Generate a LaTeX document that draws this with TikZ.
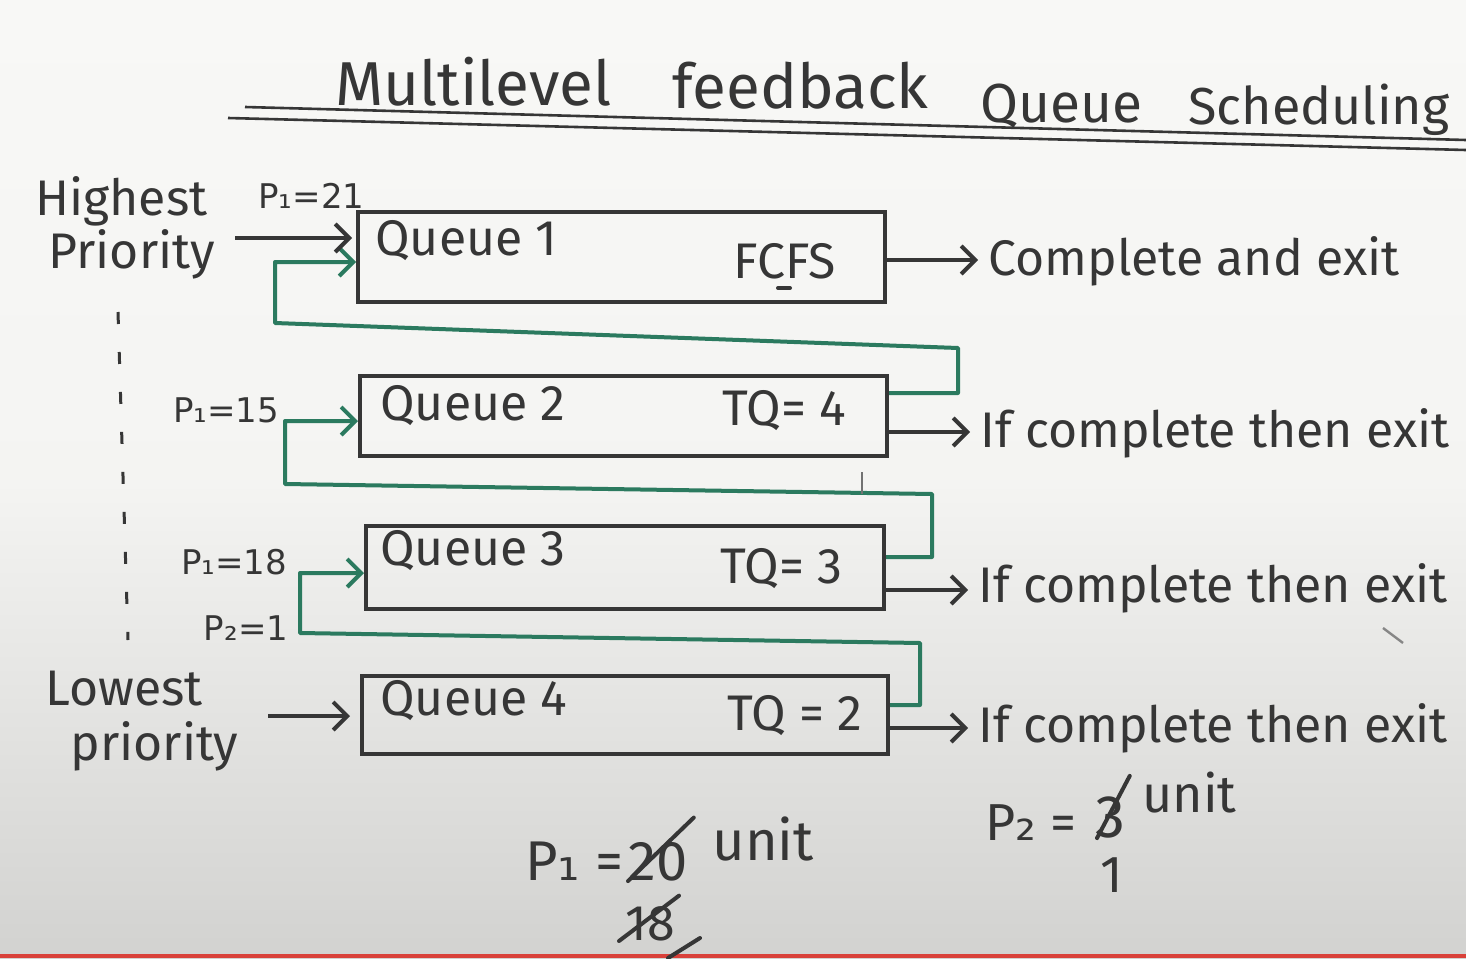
\documentclass[tikz,border=0pt]{standalone}
\usepackage{fontspec}
\setmainfont{Fira Sans}
\newfontfamily\subfont{DejaVu Sans}
\newcommand{\sbone}{{\subfont ₁}}
\newcommand{\sbtwo}{{\subfont ₂}}
\usetikzlibrary{arrows.meta}
\definecolor{ink}{HTML}{363636}
\definecolor{mk}{HTML}{2B7A5F}
\definecolor{bgtop}{HTML}{F8F8F6}
\definecolor{bgbot}{HTML}{D2D2D0}
\definecolor{bar}{HTML}{D9413A}
\begin{document}
\begin{tikzpicture}[x=0.5pt,y=-0.5pt,
  lbl/.style={text=ink, inner sep=0pt, anchor=base west, font=\fontsize{25}{30}\selectfont},
  ttl/.style={text=ink, inner sep=0pt, anchor=base west},
  small/.style={text=ink, inner sep=0pt, font=\subfont\fontsize{17}{20}\selectfont},
  qbox/.style={draw=ink, line width=2pt, inner sep=0pt},
  pen/.style={draw=ink, line width=2pt, line cap=round},
  blk/.style={draw=ink, line width=2pt, -{Straight Barb[length=7pt,width=14pt]}},
  grn/.style={draw=mk, line width=2pt, line join=round, -{Straight Barb[length=7pt,width=14pt]}}
]
\useasboundingbox (0,0) rectangle (1466,958);
\fill[top color=bgtop, bottom color=bgbot, middle color=bgtop!90!bgbot] (0,0) rectangle (1466,958);
\fill[bar] (0,954) rectangle (1466,958);

% title
\node[ttl, font=\fontsize{31}{36}\selectfont] (t1) at (335,105) {Multilevel};
\node[ttl, font=\fontsize{31}{36}\selectfont] (t2) at (672,108) {feedback};
\node[ttl, font=\fontsize{27.5}{32}\selectfont] (t3) at (980,122) {Queue};
\node[ttl, font=\fontsize{26}{30}\selectfont] (t4) at (1188,124) {Scheduling};
\draw[ink, line width=1.3pt] (245,107) -- (1466,140);
\draw[ink, line width=1.3pt] (228,118) -- (1466,150);

% queues
\node[qbox, minimum width=263.5pt, minimum height=45pt] (q1) at (621.5,257) {};
\node[qbox, minimum width=263.5pt, minimum height=40pt] (q2) at (623.5,416) {};
\node[qbox, minimum width=259pt, minimum height=41.5pt] (q3) at (625,567.5) {};
\node[qbox, minimum width=263pt, minimum height=39pt] (q4) at (625,715) {};

\node[lbl] (q1n) at (375,255) {Queue 1};
\node[lbl] (q1p) at (733,278) {FCFS};
\draw[pen] (778,288) -- (790,288);
\node[lbl] (q2n) at (380,420) {Queue 2};
\node[lbl] (q2p) at (722,425) {TQ= 4};
\node[lbl] (q3n) at (380,565) {Queue 3};
\node[lbl] (q3p) at (720,583) {TQ= 3};
\node[lbl] (q4n) at (380,715) {Queue 4};
\node[lbl] (q4p) at (727,730) {TQ = 2};

% exits
\node[lbl] (x1) at (988,275) {Complete and exit};
\node[lbl] (x2) at (980,447) {If complete then exit};
\node[lbl] (x3) at (978,602) {If complete then exit};
\node[lbl] (x4) at (978,742) {If complete then exit};
\draw[blk, shorten >=5pt] (q1.east |- 0,260) -- (x1.west |- 0,260);
\draw[blk, shorten >=5pt] (q2.east |- 0,432) -- (x2.west |- 0,432);
\draw[blk, shorten >=5pt] (q3.east |- 0,590) -- (x3.west |- 0,590);
\draw[blk, shorten >=5pt] (q4.east |- 0,728) -- (x4.west |- 0,728);

% feedback loops
\coordinate (g1a) at (958,393);
\coordinate (g1b) at (958,348);
\coordinate (g1c) at (275,323);
\coordinate (g1d) at (275,262);
\draw[grn] (q2.east |- g1a) -- (g1a) -- (g1b) -- (g1c) -- (g1d) -- (q1.west |- g1d);
\coordinate (g2a) at (932,557);
\coordinate (g2b) at (932,494);
\coordinate (g2c) at (285,484);
\coordinate (g2d) at (285,421);
\draw[grn] (q3.east |- g2a) -- (g2a) -- (g2b) -- (g2c) -- (g2d) -- (q2.west |- g2d);
\coordinate (g3a) at (920,705);
\coordinate (g3b) at (920,643);
\coordinate (g3c) at (300,633);
\coordinate (g3d) at (300,573);
\draw[grn] (q4.east |- g3a) -- (g3a) -- (g3b) -- (g3c) -- (g3d) -- (q3.west |- g3d);
\draw[ink!70, line width=1pt] (862,472) -- (862,494);

% inputs
\coordinate (hin) at (235,238);
\draw[blk, shorten >=2pt] (hin) -- (q1.west |- hin);
\coordinate (lin) at (268,716);
\draw[blk, shorten >=5pt] (lin) -- (q4.west |- lin);

% priority side
\node[lbl] (hi1) at (35,215) {Highest};
\node[lbl] (hi2) at (48,268) {Priority};
\node[lbl] (lo1) at (45,705) {Lowest};
\node[lbl] (lo2) at (70,760) {priority};
\draw[ink, line width=1.5pt, dash pattern=on 6pt off 14pt] (118,312) -- (128,640);

\node[small, anchor=base west] (pa) at (258,208) {P₁=21};
\node[small] (pb) at (226,410) {P₁=15};
\node[small] (pc) at (234,562) {P₁=18};
\node[small] (pd) at (246,628) {P₂=1};

% bottom notes
\node[lbl, font=\fontsize{28}{32}\selectfont] (b1) at (525,880) {P\sbone\ =};
\node[lbl, font=\fontsize{28}{32}\selectfont] (b2) at (628,880) {20};
\node[lbl, font=\fontsize{28}{32}\selectfont] (b3) at (712,860) {unit};
\draw[pen] (b2.south west) -- ([xshift=3pt,yshift=12pt]b2.north east);
\node[lbl, font=\fontsize{25}{30}\selectfont] (b4) at (625,940) {18};
\draw[pen] ([xshift=-3pt]b4.south west) -- ([xshift=2pt,yshift=5pt]b4.north east);
\draw[pen] (668,958) -- (700,938);

\node[lbl, font=\fontsize{26}{30}\selectfont] (c1) at (985,840) {P\sbtwo\ =};
\node[lbl, font=\fontsize{30}{34}\selectfont] (c2) at (1095,837) {3};
\node[lbl, font=\fontsize{26}{30}\selectfont] (c3) at (1142,812) {unit};
\draw[pen] ([xshift=1pt]c2.south west) -- ([xshift=2pt,yshift=10pt]c2.north east);
\node[lbl, font=\fontsize{26}{30}\selectfont] (c4) at (1100,892) {1};

\draw[ink!60, line width=1.2pt] (1383,628) -- (1403,643);
\end{tikzpicture}
\end{document}
